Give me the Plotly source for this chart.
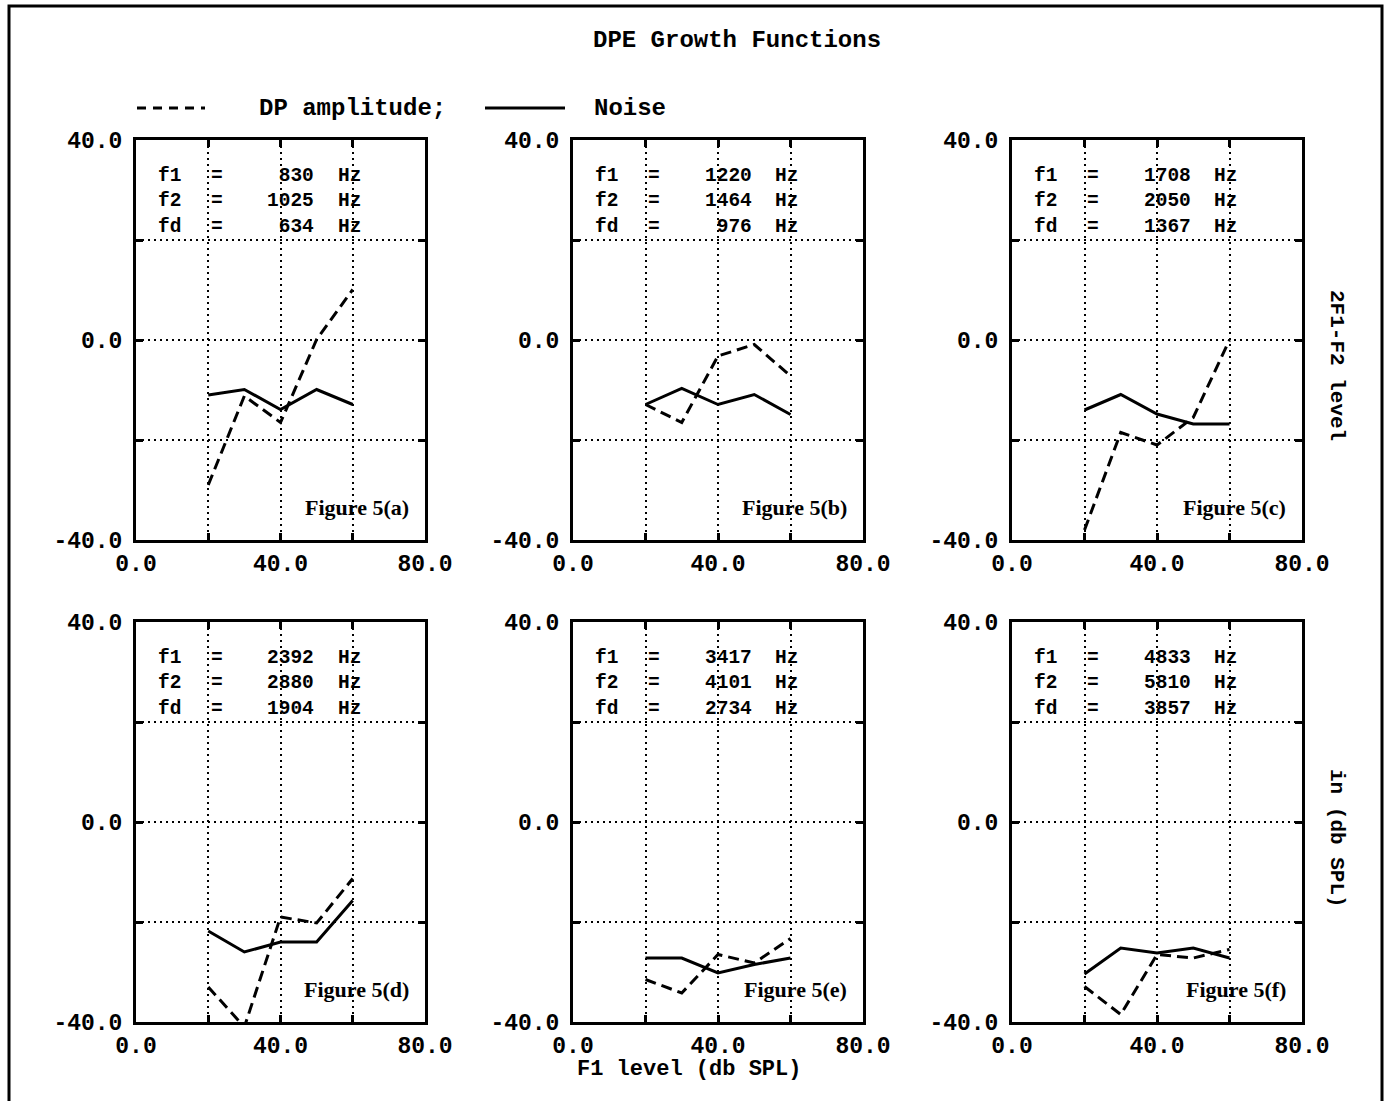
import plotly.graph_objects as go
from plotly.subplots import make_subplots

# ---- data ----
levels = [20, 30, 40, 50, 60]
panel_labels = ["Figure 5(a)", "Figure 5(b)", "Figure 5(c)", "Figure 5(d)", "Figure 5(e)", "Figure 5(f)"]
f1_hz = [830, 1220, 1708, 2392, 3417, 4833]
f2_hz = [1025, 1464, 2050, 2880, 4101, 5810]
fd_hz = [634, 976, 1367, 1904, 2734, 3857]

dp_a = [-29.0, -11.2, -16.5, 0.1, 10.1]
dp_b = [-12.9, -16.5, -3.2, -0.9, -7.2]
dp_c = [-38.0, -18.5, -21.0, -15.5, 0.0]
dp_d = [-33.0, -41.0, -19.0, -20.2, -11.3]
dp_e = [-31.5, -34.2, -26.5, -28.2, -23.3]
dp_f = [-32.9, -38.5, -26.5, -27.2, -25.5]

noise_a = [-11.0, -9.9, -13.9, -9.9, -12.9]
noise_b = [-12.9, -9.7, -12.9, -10.9, -14.9]
noise_c = [-14.0, -10.9, -14.8, -16.8, -16.8]
noise_d = [-21.8, -26.0, -24.0, -24.0, -15.7]
noise_e = [-27.2, -27.2, -30.2, -28.5, -27.2]
noise_f = [-30.4, -25.2, -26.2, -25.2, -27.2]

dp_series = [dp_a, dp_b, dp_c, dp_d, dp_e, dp_f]
noise_series = [noise_a, noise_b, noise_c, noise_d, noise_e, noise_f]

freq_labels = ["f1", "f2", "fd"]
x_tickvals = [0, 20, 40, 60, 80]
x_ticktext = ["0.0", "", "40.0", "", "80.0"]
y_tickvals = [-40, -20, 0, 20, 40]
y_ticktext = ["-40.0", "", "0.0", "", "40.0"]

title_text = "DPE Growth Functions"
legend_dp = "DP amplitude;"
legend_noise = "Noise"
xaxis_title = "F1 level (db SPL)"
right_label_1 = "2F1-F2 level"
right_label_2 = "in (db SPL)"

# ---- layout constants (page pixels) ----
W, H = 1385, 1101
MONO = "Liberation Mono"
SERIF = "Liberation Serif"
col_px = [(136, 425), (573, 863), (1012, 1302)]
row_px = [(140, 540), (622, 1022)]


def px_x(p):
    return p / W


def px_y(p):
    return 1 - p / H


fig = make_subplots(rows=2, cols=3)

for i in range(6):
    r, c = i // 3 + 1, i % 3 + 1
    fig.add_trace(go.Scatter(x=levels, y=dp_series[i], mode="lines",
                             line=dict(color="black", width=3, dash="11px,6px"),
                             showlegend=False, name="DP amplitude"), row=r, col=c)
    fig.add_trace(go.Scatter(x=levels, y=noise_series[i], mode="lines",
                             line=dict(color="black", width=3),
                             showlegend=False, name="Noise"), row=r, col=c)

axis_common = dict(showline=True, linecolor="black", linewidth=3, mirror="ticks",
                   ticks="inside", ticklen=7, tickwidth=3, tickcolor="black",
                   showgrid=True, gridcolor="black", gridwidth=2, griddash="2px,4px",
                   zeroline=False, automargin=False,
                   tickfont=dict(family=MONO, size=23, color="black", weight="bold"))

for i in range(6):
    r, c = i // 3, i % 3
    idx = "" if i == 0 else str(i + 1)
    x0, x1 = col_px[c]
    y0, y1 = row_px[r]
    fig.layout["xaxis" + idx].update(domain=[px_x(x0), px_x(x1)], range=[0, 80],
                                     tickmode="array", tickvals=x_tickvals, ticktext=x_ticktext,
                                     ticklabelstandoff=0, **axis_common)
    fig.layout["yaxis" + idx].update(domain=[px_y(y1), px_y(y0)], range=[-40, 40],
                                     tickmode="array", tickvals=y_tickvals, ticktext=y_ticktext,
                                     ticklabelstandoff=6, **axis_common)

annotations = []
info_font = dict(family=MONO, size=19.5, color="black", weight="bold")
for i in range(6):
    idx = "" if i == 0 else str(i + 1)
    xr, yr = "x" + idx, "y" + idx
    vals = [f1_hz[i], f2_hz[i], fd_hz[i]]
    ymid = 27.7
    annotations.append(dict(x=5.5, y=ymid, xref=xr, yref=yr, text="<br>".join(freq_labels),
                            showarrow=False, xanchor="left", yanchor="middle", align="left",
                            font=info_font))
    annotations.append(dict(x=22.4, y=ymid, xref=xr, yref=yr, text="<br>".join(["="] * 3),
                            showarrow=False, xanchor="center", yanchor="middle", align="center",
                            font=info_font))
    annotations.append(dict(x=49.8, y=ymid, xref=xr, yref=yr, text="<br>".join(str(v) for v in vals),
                            showarrow=False, xanchor="right", yanchor="middle", align="right",
                            font=info_font))
    annotations.append(dict(x=55.3, y=ymid, xref=xr, yref=yr, text="<br>".join(["Hz"] * 3),
                            showarrow=False, xanchor="left", yanchor="middle", align="left",
                            font=info_font))
    annotations.append(dict(x=76.0, y=-33.5, xref=xr, yref=yr, text=panel_labels[i], showarrow=False,
                            xanchor="right", yanchor="middle",
                            font=dict(family=SERIF, size=22, color="black", weight="bold")))

txt_font = dict(family=MONO, size=24, color="black", weight="bold")
annotations += [
    dict(x=px_x(737), y=px_y(41), xref="paper", yref="paper", text=title_text, showarrow=False,
         xanchor="center", yanchor="middle", font=txt_font),
    dict(x=px_x(352), y=px_y(108), xref="paper", yref="paper", text=legend_dp, showarrow=False,
         xanchor="center", yanchor="middle", font=txt_font),
    dict(x=px_x(630), y=px_y(108), xref="paper", yref="paper", text=legend_noise, showarrow=False,
         xanchor="center", yanchor="middle", font=txt_font),
    dict(x=px_x(689), y=px_y(1069), xref="paper", yref="paper", text=xaxis_title, showarrow=False,
         xanchor="center", yanchor="middle", font=dict(family=MONO, size=22, color="black", weight="bold")),
    dict(x=px_x(1337), y=px_y(365), xref="paper", yref="paper", text=right_label_1, showarrow=False,
         textangle=90, xanchor="center", yanchor="middle",
         font=dict(family=MONO, size=21, color="black", weight="bold")),
    dict(x=px_x(1337), y=px_y(838), xref="paper", yref="paper", text=right_label_2, showarrow=False,
         textangle=90, xanchor="center", yanchor="middle",
         font=dict(family=MONO, size=21, color="black", weight="bold")),
]

shapes = [
    # outer frame
    dict(type="rect", xref="paper", yref="paper", x0=px_x(9), x1=px_x(1382), y0=-0.05, y1=px_y(6),
         line=dict(color="black", width=3), fillcolor="rgba(0,0,0,0)"),
    # legend samples
    dict(type="line", xref="paper", yref="paper", x0=px_x(137), x1=px_x(205), y0=px_y(108), y1=px_y(108),
         line=dict(color="black", width=3, dash="9px,7px")),
    dict(type="line", xref="paper", yref="paper", x0=px_x(485), x1=px_x(565), y0=px_y(108), y1=px_y(108),
         line=dict(color="black", width=3)),
]

fig.update_layout(template="none", width=W, height=H, margin=dict(l=0, r=0, t=0, b=0, pad=0),
                  paper_bgcolor="white", plot_bgcolor="white",
                  showlegend=False, annotations=annotations, shapes=shapes)

fig.write_html("out.html", config={"displayModeBar": False},
               post_script="document.body.style.margin='0';document.body.style.overflow='hidden';")
